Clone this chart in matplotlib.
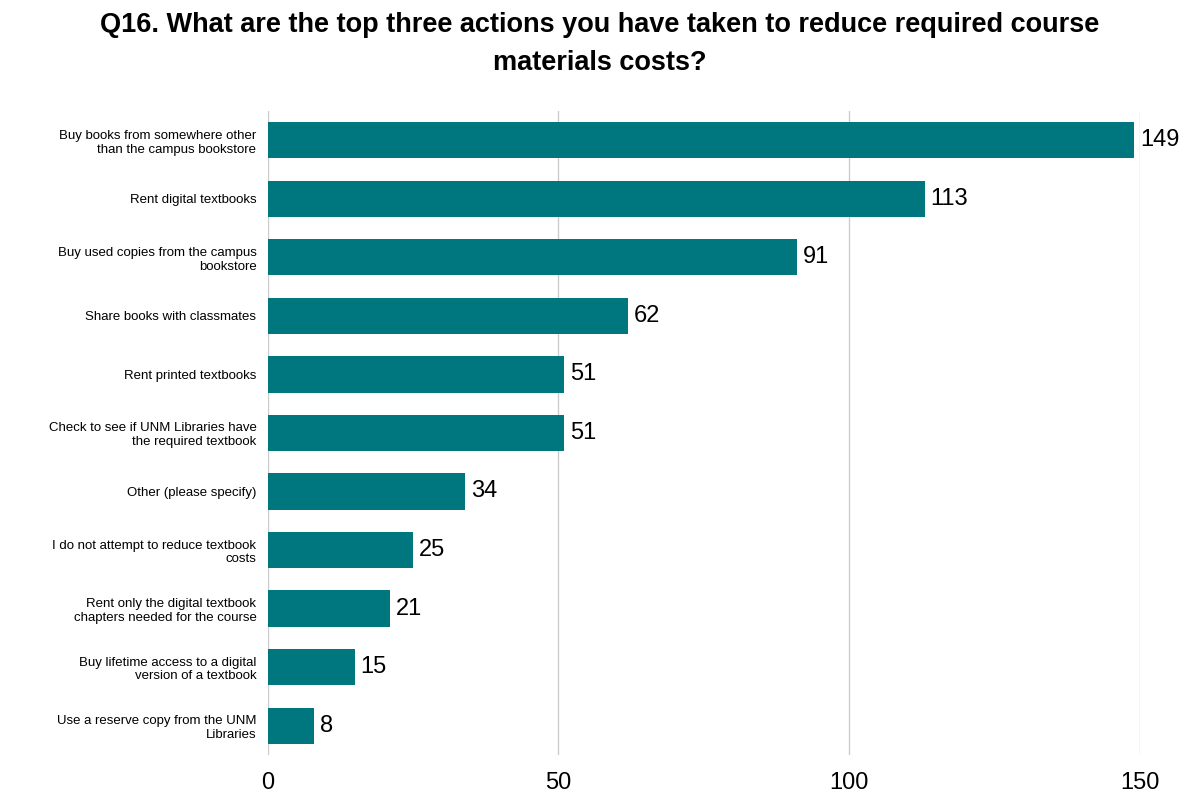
import matplotlib.pyplot as plt

labels = [
    "Buy books from somewhere other\nthan the campus bookstore",
    "Rent digital textbooks",
    "Buy used copies from the campus\nbookstore",
    "Share books with classmates",
    "Rent printed textbooks",
    "Check to see if UNM Libraries have\nthe required textbook",
    "Other (please specify)",
    "I do not attempt to reduce textbook\ncosts",
    "Rent only the digital textbook\nchapters needed for the course",
    "Buy lifetime access to a digital\nversion of a textbook",
    "Use a reserve copy from the UNM\nLibraries",
]
counts = [149, 113, 91, 62, 51, 51, 34, 25, 21, 15, 8]
ticks = [0, 50, 100, 150]

plt.rcParams['font.family'] = ['Liberation Sans', 'DejaVu Sans']
fig = plt.figure(figsize=(12, 8.1), dpi=100)
ax = fig.add_axes([0.223, 0.068, 0.727, 0.795])

y = list(range(len(labels)))
ax.barh(y, counts, height=0.62, color='#00767F', zorder=3)
for yi, v in zip(y, counts):
    ax.text(v + 1, yi, str(v), va='center', ha='left', fontsize=17, zorder=4)

ax.set_yticks(y)
ax.set_yticklabels(labels, fontsize=9.5)
ax.set_ylim(len(labels) - 0.5, -0.5)
ax.set_xlim(0, 150)
ax.set_xticks(ticks)
ax.set_xticklabels([str(t) for t in ticks], fontsize=17)
ax.tick_params(length=0, axis='both')
ax.tick_params(axis='x', pad=12)
ax.tick_params(axis='y', pad=8)
ax.grid(axis='x', color='#cccccc', linewidth=1, zorder=0)
for s in ax.spines.values():
    s.set_visible(False)

fig.suptitle("Q16. What are the top three actions you have taken to reduce required course\nmaterials costs?",
             fontsize=19.5, fontweight='bold', y=0.985, linespacing=1.6)
fig.savefig('out.png')
